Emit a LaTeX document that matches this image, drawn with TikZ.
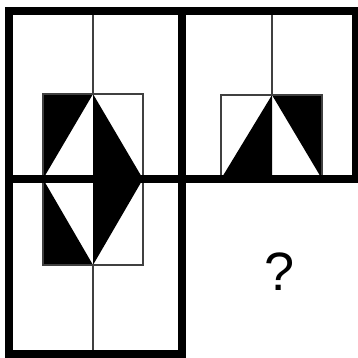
\documentclass[tikz,border=0pt]{standalone}
\usepackage{fontspec}
\setmainfont{Liberation Sans}
\begin{document}
\begin{tikzpicture}[x=1pt,y=-1pt,
  thick border/.style={line width=8pt,black,line join=miter},
  thin rule/.style={line width=1.1pt,black!75},
  blackfill/.style={fill=black,draw=none}]
\useasboundingbox[fill=white] (0,0) rectangle (358,358);
% left column figure
\fill[blackfill] (43,94) -- (93,94) -- (43,179) -- cycle;
\fill[blackfill] (43,179) -- (93,265) -- (43,265) -- cycle;
\fill[blackfill] (93,94) -- (143,179) -- (93,265) -- cycle;
\draw[thin rule] (43,94) rectangle (143,265);
\draw[thin rule] (93,11.5) -- (93,94);
\draw[thin rule] (93,265) -- (93,353.5);
% top-right figure
\fill[blackfill] (272,95) -- (221,179) -- (272,179) -- cycle;
\fill[blackfill] (272,95) -- (322,95) -- (322,179) -- cycle;
\draw[thin rule] (221,95) rectangle (322,179);
\draw[thin rule] (272,11.5) -- (272,95);
% thick borders
\draw[thick border] (8.5,11.5) rectangle (182,353.5);
\draw[thick border] (182,11.5) rectangle (355.5,179);
\draw[thick border] (8.5,179) -- (182,179);
% question mark
\node[inner sep=0pt, font=\fontsize{54}{60}\selectfont] (q) at (280,272) {?};
\end{tikzpicture}
\end{document}
